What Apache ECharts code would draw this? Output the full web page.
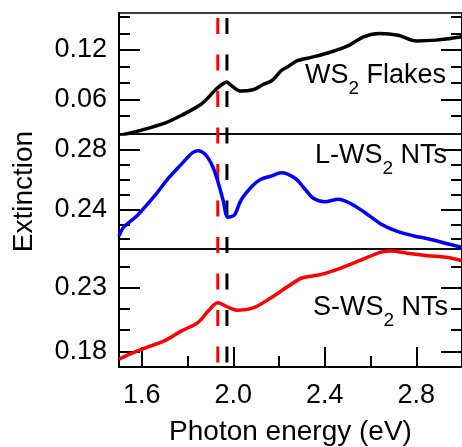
<!DOCTYPE html>
<html>
<head>
<meta charset="utf-8">
<script src="https://cdn.jsdelivr.net/npm/echarts@6/dist/echarts.min.js"></script>
<style>
  html, body { margin: 0; padding: 0; background: #fff; }
  #chart { width: 462px; height: 447px; }
</style>
</head>
<body>
<div id="chart"></div>
<script>
// photon energy (eV) / extinction
var flakesE   = [1.50, 1.55, 1.63, 1.70, 1.77, 1.83, 1.86, 1.89, 1.92, 1.95, 1.97, 1.99, 2.03, 2.09, 2.13, 2.17, 2.21, 2.24, 2.28, 2.34, 2.42, 2.50, 2.57, 2.64, 2.72, 2.80, 2.89, 2.95, 3.00];
var flakesVal = [0.016, 0.019, 0.025, 0.031, 0.040, 0.049, 0.054, 0.062, 0.071, 0.078, 0.081, 0.077, 0.070, 0.072, 0.078, 0.083, 0.095, 0.100, 0.107, 0.111, 0.117, 0.125, 0.136, 0.140, 0.138, 0.131, 0.132, 0.134, 0.136];

var longE   = [1.50, 1.52, 1.58, 1.66, 1.71, 1.77, 1.82, 1.845, 1.88, 1.91, 1.93, 1.955, 1.976, 2.005, 2.034, 2.08, 2.12, 2.165, 2.21, 2.27, 2.31, 2.35, 2.40, 2.46, 2.51, 2.57, 2.645, 2.72, 2.79, 2.86, 2.94, 3.00];
var longVal = [0.222, 0.228, 0.236, 0.250, 0.260, 0.270, 0.278, 0.2795, 0.2766, 0.2688, 0.260, 0.2464, 0.2348, 0.2363, 0.2464, 0.2553, 0.2603, 0.2625, 0.2647, 0.2610, 0.2543, 0.2475, 0.2452, 0.2469, 0.2442, 0.2385, 0.2303, 0.2251, 0.2222, 0.2200, 0.2168, 0.2146];

var shortE   = [1.50, 1.55, 1.63, 1.70, 1.77, 1.845, 1.89, 1.932, 1.976, 2.02, 2.09, 2.165, 2.24, 2.30, 2.38, 2.47, 2.56, 2.645, 2.69, 2.76, 2.85, 2.94, 3.00];
var shortVal = [0.174, 0.178, 0.1837, 0.1884, 0.1957, 0.2026, 0.2116, 0.2181, 0.2147, 0.2122, 0.2143, 0.2220, 0.2310, 0.2375, 0.2401, 0.2453, 0.2517, 0.2577, 0.2587, 0.2569, 0.2550, 0.2535, 0.2509];

// dashed markers (eV)
var redMark = 1.932;
var blackMark = 1.972;

// ticks
var xMajor = [1.6, 2.0, 2.4, 2.8];
var xMinor = [1.8, 2.2, 2.6];
var y1Major = [0.06, 0.12];
var y1Minor = [0.04, 0.08, 0.10, 0.14, 0.16];
var y2Major = [0.24, 0.28];
var y2Minor = [0.22, 0.23, 0.25, 0.26, 0.27];
var y3Major = [0.18, 0.23];
var y3Minor = [0.19667, 0.21333, 0.24667];

var FONT = 'Liberation Sans';

function zip(a, b) {
  return a.map(function (v, i) { return [v, b[i]]; });
}

function yPair(grid, min, max, major, minor, pos, name) {
  var major = {
    type: 'value', gridIndex: grid, position: pos, min: min, max: max,
    axisLine: { show: true, lineStyle: { color: '#000', width: 2 } },
    axisTick: { show: true, inside: true, length: 21, customValues: major, lineStyle: { color: '#000', width: 2 } },
    axisLabel: { show: pos == 'left', customValues: major, margin: 12, fontSize: 27, fontFamily: FONT, color: '#000',
                 formatter: function (v) { return v.toFixed(2); } },
    splitLine: { show: false }
  };
  if (name) {
    major.name = name;
    major.nameLocation = 'middle';
    major.nameGap = 81;
    major.nameTextStyle = { fontSize: 28, fontFamily: FONT, color: '#000' };
  }
  var minorAx = {
    type: 'value', gridIndex: grid, position: pos, min: min, max: max,
    axisLine: { show: false },
    axisTick: { show: true, inside: true, length: 11, customValues: minor, lineStyle: { color: '#000', width: 2 } },
    axisLabel: { show: false },
    splitLine: { show: false }
  };
  return [major, minorAx];
}

function hiddenX(grid) {
  return { type: 'value', gridIndex: grid, min: 1.5, max: 3.0, show: false };
}

var gridBase = { left: 119, right: -2, show: true, borderColor: '#000', borderWidth: 1.5 };

var yAxes = [].concat(
  yPair(0, 0.0178, 0.165, y1Major, y1Minor, 'left'),
  yPair(0, 0.0178, 0.165, y1Major, y1Minor, 'right'),
  yPair(1, 0.2134, 0.2908, y2Major, y2Minor, 'left', 'Extinction'),
  yPair(1, 0.2134, 0.2908, y2Major, y2Minor, 'right'),
  yPair(2, 0.1678, 0.2602, y3Major, y3Minor, 'left'),
  yPair(2, 0.1678, 0.2602, y3Major, y3Minor, 'right'),
  [{ type: 'value', gridIndex: 3, min: 0, max: 1, show: false }]
);

var xAxes = [
  hiddenX(0),
  hiddenX(1),
  {
    type: 'value', gridIndex: 2, position: 'bottom', min: 1.5, max: 3.0,
    axisLine: { show: true, lineStyle: { color: '#000', width: 2 } },
    axisTick: { show: true, inside: true, length: 20, customValues: xMajor, lineStyle: { color: '#000', width: 2 } },
    axisLabel: { customValues: xMajor, margin: 15, fontSize: 27, fontFamily: FONT, color: '#000',
                 formatter: function (v) { return v.toFixed(1); } },
    splitLine: { show: false },
    name: 'Photon energy (eV)', nameLocation: 'middle', nameGap: 51,
    nameTextStyle: { fontSize: 28, fontFamily: FONT, color: '#000' }
  },
  {
    type: 'value', gridIndex: 2, position: 'bottom', min: 1.5, max: 3.0,
    axisLine: { show: false },
    axisTick: { show: true, inside: true, length: 11, customValues: xMinor, lineStyle: { color: '#000', width: 2 } },
    axisLabel: { show: false },
    splitLine: { show: false }
  },
  hiddenX(3)
];

function dashLine(x, color) {
  return {
    type: 'line', xAxisIndex: 4, yAxisIndex: 12, symbol: 'none', silent: true, z: 1,
    data: [[x, 1], [x, 0]],
    lineStyle: { color: color, width: 3, type: [16, 20.5], dashOffset: 31.5 }
  };
}

function curve(xi, yi, data, color) {
  return {
    type: 'line', xAxisIndex: xi, yAxisIndex: yi, symbol: 'none', smooth: 0.3, z: 3,
    data: data, lineStyle: { color: color, width: 3.5 }
  };
}

var richStyle = {
  n: { fontSize: 27, fontFamily: FONT, lineHeight: 31, verticalAlign: 'top', fill: '#000' },
  s: { fontSize: 19, fontFamily: FONT, lineHeight: 19, verticalAlign: 'top', padding: [17, 0, 0, 0], fill: '#000' }
};

function label(txt, x, y) {
  return {
    type: 'text', x: x, y: y, z: 10,
    style: { text: txt, rich: richStyle, align: 'right', verticalAlign: 'top', fill: '#000' }
  };
}

var option = {
  animation: false,
  backgroundColor: '#fff',
  grid: [
    Object.assign({ top: 13, height: 121 }, gridBase),
    Object.assign({ top: 134, height: 115 }, gridBase),
    Object.assign({ top: 249, height: 119 }, gridBase),
    { left: 119, right: -2, top: 13, height: 355, show: false }
  ],
  xAxis: xAxes,
  yAxis: yAxes,
  series: [
    dashLine(redMark, '#ff0000'),
    dashLine(blackMark, '#000000'),
    curve(0, 0, zip(flakesE, flakesVal), '#000000'),
    curve(1, 4, zip(longE, longVal), '#0000ff'),
    curve(2, 8, zip(shortE, shortVal), '#ff0000')
  ],
  graphic: [
    label('{n|WS}{s|2}{n| Flakes}', 446, 62),
    label('{n|L-WS}{s|2}{n| NTs}', 447, 142),
    label('{n|S-WS}{s|2}{n| NTs}', 448, 294)
  ]
};

echarts.init(document.getElementById('chart')).setOption(option);
</script>
</body>
</html>
